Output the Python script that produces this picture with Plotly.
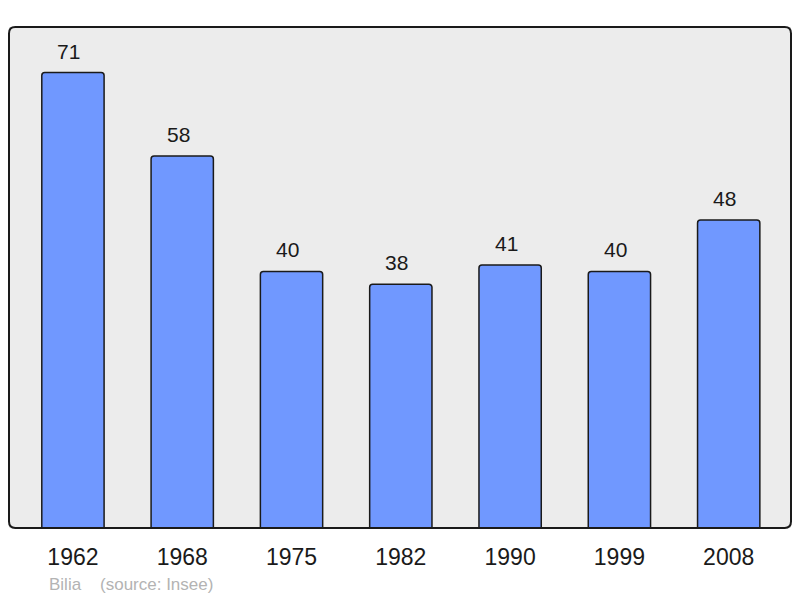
import plotly.graph_objects as go

years = ["1962", "1968", "1975", "1982", "1990", "1999", "2008"]
population = [71, 58, 40, 38, 41, 40, 48]

fig = go.Figure()
fig.add_trace(go.Bar(
    x=years, y=population,
    width=0.57,
    marker=dict(color="#7098ff", line=dict(color="#1a1a1a", width=1.5), cornerradius=3),
    hoverinfo="skip",
))

# value labels above the bars (category index positions)
for i, val in enumerate(population):
    fig.add_annotation(x=i, y=val, text=str(val), showarrow=False,
                       yanchor="bottom", yshift=8, xshift=-4,
                       font=dict(family="Liberation Sans, Arial", size=21, color="#1a1a1a"))

# rounded frame around the plot area
r = 0.008
fig.add_shape(type="path", xref="paper", yref="paper",
              path=f"M {r},0 L {1-r},0 Q 1,0 1,{r*1.6} L 1,{1-r*1.6} Q 1,1 {1-r},1 "
                   f"L {r},1 Q 0,1 0,{1-r*1.6} L 0,{r*1.6} Q 0,0 {r},0 Z",
              line=dict(color="#1a1a1a", width=2), layer="above")

fig.add_annotation(xref="paper", yref="paper", x=0.048, y=-0.112,
                   text="Bilia&nbsp;&nbsp;&nbsp;&nbsp;(source: Insee)", showarrow=False,
                   xanchor="left", yanchor="middle",
                   font=dict(family="Liberation Sans, Arial", size=17, color="#b3b3b3"))

fig.update_layout(
    width=784, height=590,
    margin=dict(l=1, r=1, t=19, b=70),
    paper_bgcolor="white", plot_bgcolor="#ececec",
    showlegend=False,
    xaxis=dict(type="category", range=[-0.585, 6.57], showgrid=False, zeroline=False,
               ticks="outside", ticklen=8, tickcolor="rgba(0,0,0,0)",
               tickfont=dict(family="Liberation Sans, Arial", size=23, color="#1a1a1a")),
    yaxis=dict(range=[0, 78.1], visible=False, showgrid=False),
)

fig.write_html("out.html")
